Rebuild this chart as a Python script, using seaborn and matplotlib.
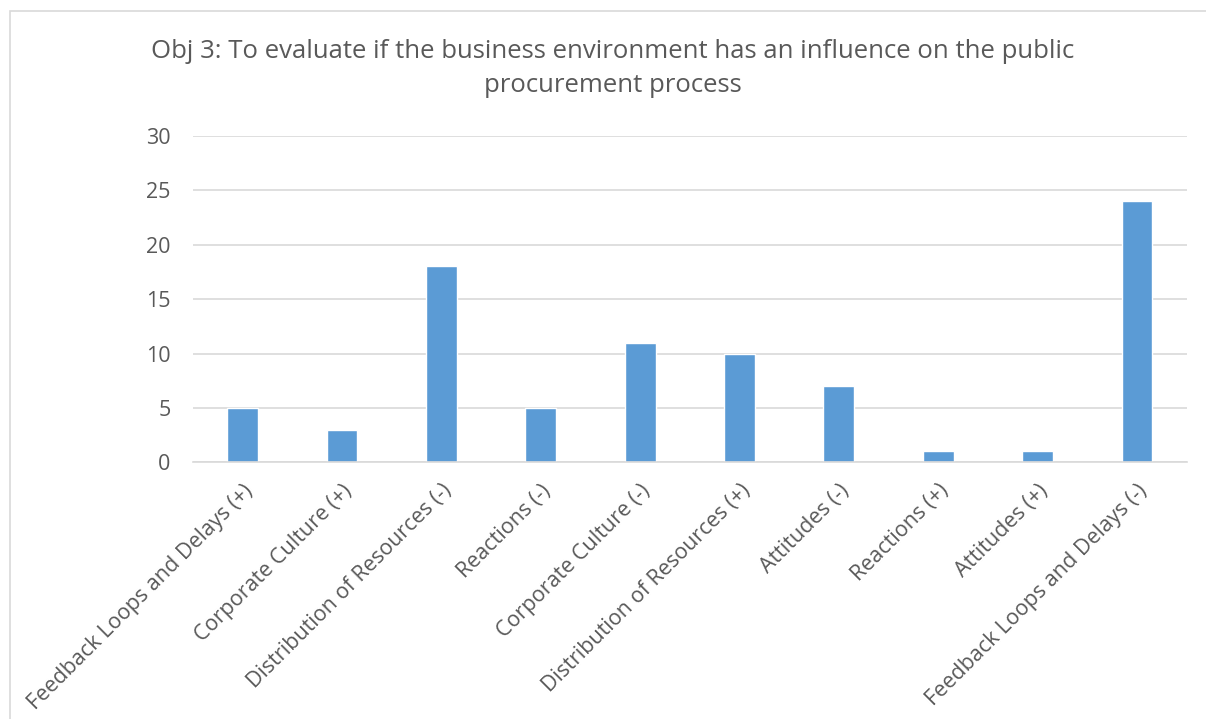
import matplotlib
matplotlib.use("Agg")
import matplotlib.pyplot as plt
import seaborn as sns
import pandas as pd
from matplotlib.patches import Rectangle

categories = [
    "Feedback Loops and Delays (+)",
    "Corporate Culture (+)",
    "Distribution of Resources (-)",
    "Reactions (-)",
    "Corporate Culture (-)",
    "Distribution of Resources (+)",
    "Attitudes (-)",
    "Reactions (+)",
    "Attitudes (+)",
    "Feedback Loops and Delays (-)",
]
counts = [5, 3, 18, 5, 11, 10, 7, 1, 1, 24]
y_ticks = [0, 5, 10, 15, 20, 25, 30]

df = pd.DataFrame({"category": categories, "count": counts})

sns.set_theme(style="white")
plt.rcParams["font.family"] = ["Open Sans", "DejaVu Sans"]
txt = "#595959"

fig = plt.figure(figsize=(12.06, 7.19), dpi=100)
ax = fig.add_axes([0.160, 0.357, 0.824, 0.454])

sns.barplot(data=df, x="category", y="count", color="#5B9BD5", width=0.31,
            saturation=1, ax=ax)

ax.set_ylim(0, 30)
ax.set_xlim(-0.5, len(categories) - 0.5)
ax.set_yticks(y_ticks)
ax.yaxis.grid(True, color="#D9D9D9", linewidth=1.2)
ax.set_axisbelow(True)
for s in ["top", "right", "left"]:
    ax.spines[s].set_visible(False)
ax.spines["bottom"].set_color("#D9D9D9")
ax.spines["bottom"].set_linewidth(1.2)
ax.tick_params(axis="both", length=0, colors=txt, labelsize=15.5)
ax.tick_params(axis="y", pad=16)
ax.set_xticks(range(len(categories)))
ax.set_xticklabels(categories, rotation=45, ha="right", rotation_mode="anchor")
ax.tick_params(axis="x", pad=13)
ax.set_xlabel("")
ax.set_ylabel("")

fig.text(0.508, 0.905, "Obj 3: To evaluate if the business environment has an influence on the public\nprocurement process",
         ha="center", va="center", fontsize=18.5, color=txt, linespacing=1.48)

# chart border
fig.patches.append(Rectangle((10 / 1206, -0.05), 1.1, 0.05 + (719 - 11) / 719,
                             transform=fig.transFigure, fill=False,
                             edgecolor="#D9D9D9", linewidth=1.2))

fig.savefig("out.png", dpi=100)
